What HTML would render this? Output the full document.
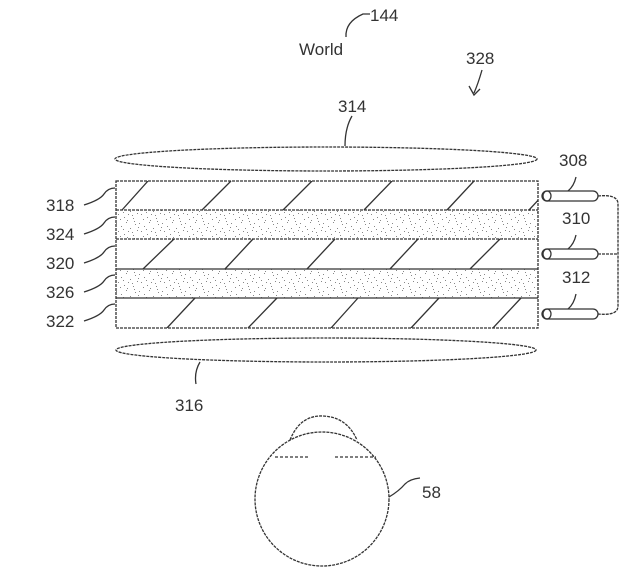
<!DOCTYPE html>
<html><head><meta charset="utf-8"><style>
html,body{margin:0;padding:0;background:#fff;}
svg{display:block;}
text{font-family:"Liberation Sans",sans-serif;font-size:17px;fill:#333;}
</style></head><body>
<svg width="635" height="582" viewBox="0 0 635 582" xmlns="http://www.w3.org/2000/svg">
<defs>
<pattern id="st" width="23" height="17" patternUnits="userSpaceOnUse">
<g fill="#888">
<rect x="1" y="2" width="1" height="1"/><rect x="6" y="5" width="1" height="1"/><rect x="11" y="1" width="1" height="1"/>
<rect x="15" y="7" width="1" height="1"/><rect x="20" y="3" width="1" height="1"/><rect x="3" y="10" width="1" height="1"/>
<rect x="9" y="13" width="1" height="1"/><rect x="13" y="10" width="1" height="1"/><rect x="18" y="14" width="1" height="1"/>
<rect x="22" y="9" width="1" height="1"/><rect x="5" y="15" width="1" height="1"/><rect x="8" y="8" width="1" height="1"/>
<rect x="17" y="11" width="1" height="1"/><rect x="12" y="16" width="1" height="1"/><rect x="0" y="6" width="1" height="1"/>
<rect x="19" y="0" width="1" height="1"/>
</g>
</pattern>
<clipPath id="bx"><rect x="116" y="181" width="422" height="147"/></clipPath>
</defs>
<g stroke="#333" fill="none" stroke-width="1.3">
<rect x="116" y="210" width="422" height="29" fill="url(#st)" stroke="none"/>
<rect x="116" y="269" width="422" height="29" fill="url(#st)" stroke="none"/>
<rect x="116" y="181" width="422" height="147" stroke-dasharray="3,1"/>
<line x1="116" y1="210" x2="538" y2="210" stroke-dasharray="3,1"/>
<line x1="116" y1="239" x2="538" y2="239" stroke-dasharray="3,1"/>
<line x1="116" y1="269" x2="538" y2="269"/>
<line x1="116" y1="298" x2="538" y2="298"/>
<g clip-path="url(#bx)">
<path d="M122 210L148 181M202 210L231 181M283 210L312 181M364 210L392 181M447 210L474 181M529 210L556 181"/>
<path d="M143 269L174 239M225 269L253 239M307 269L335 239M390 269L418 239M470 269L500 239"/>
<path d="M167 328L195 298M248 328L277 298M331 328L358 298M411 328L439 298M493 328L521 298"/>
</g>
<ellipse cx="326" cy="159" rx="211" ry="12" stroke-dasharray="3,1"/>
<ellipse cx="326" cy="350" rx="210" ry="12" stroke-dasharray="3,1"/>
<g>
<rect x="542" y="191" width="56" height="10" rx="5"/><ellipse cx="547" cy="196" rx="4" ry="5"/>
<rect x="542" y="249" width="56" height="10" rx="5"/><ellipse cx="547" cy="254" rx="4" ry="5"/>
<rect x="542" y="309" width="56" height="10" rx="5"/><ellipse cx="547" cy="314" rx="4" ry="5"/>
<path d="M598 196 Q618 194 618 204 L618 306 Q618 316 598 314" stroke-dasharray="3,1"/>
<path d="M598 254 L618 254" stroke-dasharray="3,1"/>
</g>
<path d="M568 191 Q574 186 576 177"/>
<path d="M568 249 Q574 244 576 235"/>
<path d="M568 309 Q574 304 576 294"/>
<path d="M84 205 Q100 200 104 194 Q108 188 115 188"/>
<path d="M84 234 Q100 229 104 223 Q108 217 115 217"/>
<path d="M84 263 Q100 258 104 252 Q108 246 115 246"/>
<path d="M84 292 Q100 287 104 281 Q108 275 115 275"/>
<path d="M84 321 Q100 316 104 310 Q108 304 115 304"/>
<path d="M345 146 Q345 128 352 116"/>
<path d="M200 362 Q194 372 196 384"/>
<path d="M346 37 Q345 22 363 14 L370 14"/>
<path d="M482 70 Q478 84 474 93 M469 86 L474 95 L480 89"/>
<path d="M389 497 Q399 491 405 484 Q410 479 420 478"/>
<circle cx="322" cy="499" r="67" stroke-dasharray="3,1"/>
<path d="M290 440 Q300 415 323 416 Q347 417 357 440" stroke-dasharray="3,1"/>
<path d="M275 457 L308 457 M335 457 L376 457" stroke-dasharray="3,2"/>
</g>
<text x="370" y="21">144</text>
<text x="299" y="55">World</text>
<text x="466" y="64">328</text>
<text x="338" y="112">314</text>
<text x="559" y="166">308</text>
<text x="562" y="224">310</text>
<text x="562" y="283">312</text>
<text x="46" y="211">318</text>
<text x="46" y="240">324</text>
<text x="46" y="269">320</text>
<text x="46" y="298">326</text>
<text x="46" y="327">322</text>
<text x="175" y="411">316</text>
<text x="422" y="498">58</text>
</svg>
</body></html>
